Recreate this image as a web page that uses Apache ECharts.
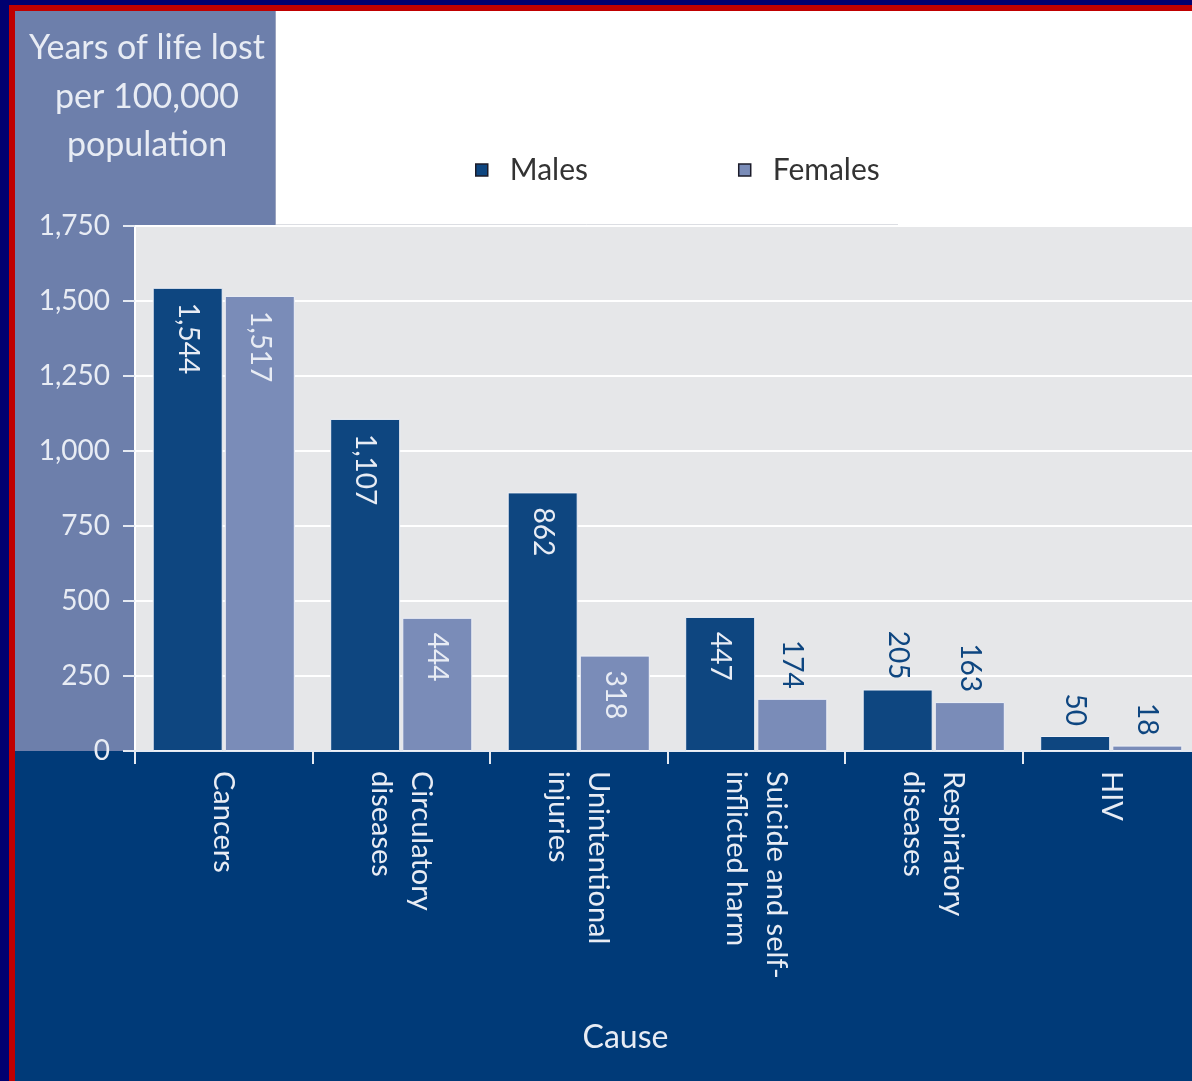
<!DOCTYPE html>
<html>
<head>
<meta charset="utf-8">
<title>Years of life lost by cause</title>
<script src="https://cdn.jsdelivr.net/npm/echarts@6/dist/echarts.min.js"></script>
<style>
  html, body { margin: 0; padding: 0; background: #003a78; overflow: hidden; }
  #chart { width: 1210px; height: 1081px; }
</style>
</head>
<body>
<div id="chart"></div>
<script>
// Causes of death, males vs females (years of life lost per 100,000 population)
const categories = [
  'Cancers',
  'Circulatory\ndiseases',
  'Unintentional\ninjuries',
  'Suicide and self-\ninflicted harm',
  'Respiratory\ndiseases',
  'HIV'
];
const maleValues = [1544, 1107, 862, 447, 205, 50];
const femaleValues = [1517, 444, 318, 174, 163, 18];
const seriesNames = ['Males', 'Females'];

const FONT = 'Lato, "Open Sans", sans-serif';
const LIGHT_TEXT = '#e8ecf4';
const MALE_COLOR = '#0e4680';
const FEMALE_COLOR = '#7a8cb8';

// Tall bars carry their value inside at the top; short ones carry it above.
function barData(values) {
  return values.map(function (v) {
    const inside = v > 250;
    return {
      value: v,
      label: inside
        ? { position: 'insideTop', distance: 15, align: 'left', color: LIGHT_TEXT }
        : { position: 'top', distance: 10, align: 'right', color: MALE_COLOR }
    };
  });
}

const labelBase = {
  show: true,
  rotate: -90,
  verticalAlign: 'middle',
  fontFamily: FONT,
  fontSize: 28,
  formatter: function (p) { return Number(p.value).toLocaleString('en-US'); }
};

const chart = echarts.init(document.getElementById('chart'), null, { renderer: 'canvas' });

chart.setOption({
  backgroundColor: '#003a78',
  animation: false,
  graphic: [
    // frame strips
    { type: 'rect', z: -5, shape: { x: 0, y: 0, width: 1210, height: 5 }, style: { fill: '#000070' } },
    { type: 'rect', z: -5, shape: { x: 0, y: 0, width: 9, height: 1081 }, style: { fill: '#000070' } },
    { type: 'rect', z: -5, shape: { x: 9, y: 5, width: 1201, height: 6 }, style: { fill: '#c00000' } },
    { type: 'rect', z: -5, shape: { x: 9, y: 5, width: 6, height: 1076 }, style: { fill: '#c00000' } },
    // slate axis panel
    { type: 'rect', z: -5, shape: { x: 15, y: 11, width: 120, height: 740 }, style: { fill: '#6d7fab' } },
    { type: 'rect', z: -5, shape: { x: 135, y: 11, width: 140, height: 215 }, style: { fill: '#6d7fab' } },
    // white legend panel
    { type: 'rect', z: -5, shape: { x: 275, y: 11, width: 935, height: 215 }, style: { fill: '#ffffff' } },
    { type: 'line', z: -4, shape: { x1: 275, y1: 225, x2: 898, y2: 225 }, style: { stroke: '#b8bcc6', lineWidth: 1 } },
    { type: 'line', z: -4, shape: { x1: 275.5, y1: 11, x2: 275.5, y2: 226 }, style: { stroke: '#9aa4bf', lineWidth: 1 } },
    // value axis title
    {
      type: 'text', z: 5, x: 147, y: 24,
      style: {
        text: 'Years of life lost\nper 100,000\npopulation',
        fill: LIGHT_TEXT,
        font: '34px ' + FONT,
        align: 'center',
        verticalAlign: 'top',
        lineHeight: 48.5
      }
    }
  ],
  legend: {
    data: seriesNames,
    left: 470,
    top: 150,
    icon: 'rect',
    itemWidth: 12,
    itemHeight: 12,
    itemGap: 150,
    itemStyle: { borderColor: '#1c1c2a', borderWidth: 1.5 },
    textStyle: {
      fontFamily: FONT,
      fontSize: 30,
      color: '#333333',
      padding: [0, 0, 0, 17]
    }
  },
  grid: {
    left: 135,
    top: 226,
    width: 1065,
    height: 525,
    show: true,
    backgroundColor: '#e6e7e9',
    borderWidth: 0,
    containLabel: false
  },
  xAxis: {
    type: 'category',
    data: categories,
    name: 'Cause',
    nameLocation: 'middle',
    nameGap: 271,
    nameTextStyle: {
      fontFamily: FONT,
      fontSize: 32,
      color: LIGHT_TEXT,
      padding: [0, 84, 0, 0]
    },
    axisLine: { show: true, lineStyle: { color: '#e4e9f2', width: 2 } },
    axisTick: { show: true, length: 13, lineStyle: { color: '#e4e9f2', width: 2 } },
    axisLabel: {
      rotate: -90,
      margin: 20,
      fontFamily: FONT,
      fontSize: 29,
      lineHeight: 40,
      color: LIGHT_TEXT,
      interval: 0
    }
  },
  yAxis: {
    type: 'value',
    min: 0,
    max: 1750,
    interval: 250,
    axisLine: { show: true, lineStyle: { color: '#ffffff', width: 2 } },
    axisTick: { show: true, length: 12, lineStyle: { color: '#e4e9f2', width: 2 } },
    axisLabel: {
      margin: 25,
      fontFamily: FONT,
      fontSize: 28,
      color: LIGHT_TEXT,
      formatter: function (v) { return Number(v).toLocaleString('en-US'); }
    },
    splitLine: { show: true, lineStyle: { color: '#ffffff', width: 2 } }
  },
  series: [
    {
      name: seriesNames[0],
      type: 'bar',
      data: barData(maleValues),
      barWidth: 70,
      barGap: '3%',
      itemStyle: { color: MALE_COLOR, borderColor: '#eef1f7', borderWidth: 1 },
      label: labelBase
    },
    {
      name: seriesNames[1],
      type: 'bar',
      data: barData(femaleValues),
      barWidth: 70,
      barGap: '3%',
      itemStyle: { color: FEMALE_COLOR, borderColor: '#eef1f7', borderWidth: 1 },
      label: labelBase
    }
  ]
});
</script>
</body>
</html>
